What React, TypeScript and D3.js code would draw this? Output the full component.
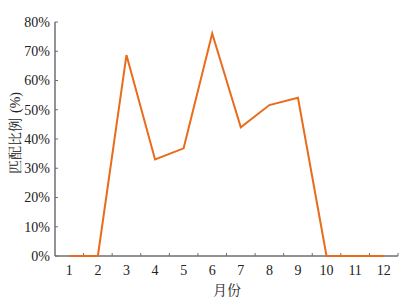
import React from 'react';
import * as d3 from 'd3';

const months = ['1', '2', '3', '4', '5', '6', '7', '8', '9', '10', '11', '12'];
const matchRatio = [0, 0, 68.7, 33.0, 36.8, 76.1, 44.0, 51.6, 54.1, 0, 0, 0];
const yTicks = [0, 10, 20, 30, 40, 50, 60, 70, 80];

const width = 400;
const height = 298;
const margin = { left: 55, right: 2, top: 22, bottom: 42 };
const axisColor = '#6f6f6f';
const lineColor = '#EA6B1B';
const font = '"Liberation Serif", "Times New Roman", serif';
const cjkFont = '"Noto Serif CJK SC", "Noto Sans CJK SC", serif';

const App = () => {
  const x = d3.scaleBand().domain(months).range([margin.left, width - margin.right]);
  const y = d3.scaleLinear().domain([0, 80]).range([height - margin.bottom, margin.top]);
  const line = d3.line<number>()
    .x((d, i) => x(months[i])! + x.bandwidth() / 2)
    .y(d => y(d));
  const y0 = y(0);

  return (
    <svg width={width} height={height} style={{ position: 'absolute', left: 0, top: 0 }}>
      {/* y axis */}
      <line x1={margin.left} x2={margin.left} y1={y(80)} y2={y0} stroke={axisColor} strokeWidth={1.5} />
      {yTicks.map(t => (
        <g key={t}>
          <line x1={margin.left} x2={margin.left + 3} y1={y(t)} y2={y(t)} stroke={axisColor} strokeWidth={1} />
          <text x={margin.left - 5} y={y(t)} dy="0.35em" textAnchor="end" fontFamily={font} fontSize={14} fill="#222">{t}%</text>
        </g>
      ))}
      {/* x axis */}
      <line x1={margin.left} x2={width - margin.right} y1={y0} y2={y0} stroke={axisColor} strokeWidth={1.5} />
      {months.map((m, i) => (
        <g key={m}>
          <line x1={x(m)! + x.bandwidth()} x2={x(m)! + x.bandwidth()} y1={y0} y2={y0 - 3} stroke={axisColor} strokeWidth={1} />
          <text x={x(m)! + x.bandwidth() / 2} y={y0 + 19} textAnchor="middle" fontFamily={font} fontSize={14} fill="#222">{m}</text>
        </g>
      ))}
      <path d={line(matchRatio)!} fill="none" stroke={lineColor} strokeWidth={2} strokeLinejoin="miter" />
      <text x={227} y={295} textAnchor="middle" fontFamily={cjkFont} fontSize={14} fill="#222">月份</text>
      <text transform="translate(15,133) rotate(-90)" textAnchor="middle" dy="0.35em" fontFamily={cjkFont} fontSize={14} fill="#222">
        <tspan>匹配比例</tspan>
        <tspan fontFamily={font} dx={5}>(%)</tspan>
      </text>
    </svg>
  );
};

export default App;
